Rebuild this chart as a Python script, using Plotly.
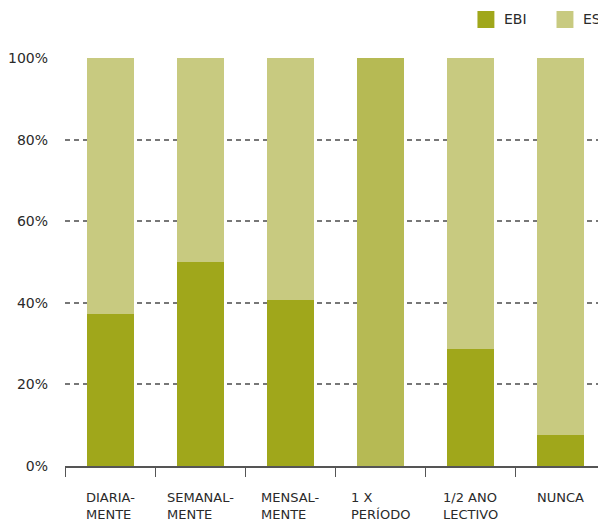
import plotly.graph_objects as go

categories = ["DIARIAMENTE", "SEMANALMENTE", "MENSALMENTE", "1 X PERÍODO", "1/2 ANO LECTIVO", "NUNCA"]
labels = ["DIARIA-<br>MENTE", "SEMANAL-<br>MENTE", "MENSAL-<br>MENTE", "1 X<br>PERÍODO", "1/2 ANO<br>LECTIVO", "NUNCA"]
ebi = [37.3, 50.0, 40.7, 0.0, 28.7, 7.6]
es = [62.7, 50.0, 59.3, 100.0, 71.3, 92.4]
y_ticks = [0, 20, 40, 60, 80, 100]

EBI_COLOR = "#A0A71B"
ES_COLOR = "#C8CA80"
es_colors = [ES_COLOR, ES_COLOR, ES_COLOR, "#B6BA54", ES_COLOR, ES_COLOR]

FONT = "DejaVu Sans"
TEXT = "#2a2a2a"

fig = go.Figure()
fig.add_trace(go.Bar(x=categories, y=ebi, name="EBI",
                     marker=dict(color=EBI_COLOR, line_width=0)))
fig.add_trace(go.Bar(x=categories, y=es, name="ES",
                     marker=dict(color=es_colors, line_width=0)))

# category labels, two lines, left aligned
for cat, lab in zip(categories, labels):
    fig.add_annotation(x=cat, xref="x", y=-0.054, yref="paper", text=lab,
                       showarrow=False, align="left", xanchor="center", yanchor="top",
                       font=dict(family=FONT, size=13, color=TEXT))

# legend drawn by hand (squares + labels)
for name, col, x0 in [("EBI", EBI_COLOR, 0.7624), ("ES", ES_COLOR, 0.9085)]:
    fig.add_shape(type="rect", xref="paper", yref="paper",
                  x0=x0, x1=x0 + 0.0313, y0=1.0735, y1=1.1152,
                  fillcolor=col, line_width=0)
    fig.add_annotation(x=x0 + 0.045, y=1.0944, xref="paper", yref="paper", text=name,
                       showarrow=False, xanchor="left", yanchor="middle",
                       font=dict(family=FONT, size=14, color=TEXT))

fig.update_layout(
    width=598, height=515,
    margin=dict(l=55, r=0, t=50, b=57),
    barmode="stack", bargap=0.48,
    plot_bgcolor="white", paper_bgcolor="white",
    font=dict(family=FONT, size=13, color=TEXT),
    showlegend=False,
)
fig.update_xaxes(showticklabels=False, tickson="boundaries", ticks="outside", ticklen=9,
                 tickcolor="#555", showline=True, linecolor="#555", linewidth=1.5,
                 showgrid=False)
fig.update_yaxes(range=[0, 100], tickmode="array", tickvals=y_ticks,
                 ticktext=[f"{v}%" for v in y_ticks],
                 showgrid=True, gridcolor="#777", griddash="5px,4px", gridwidth=1.5,
                 zeroline=False, ticklabelstandoff=16, tickfont=dict(size=14))

fig.write_html("out.html")
